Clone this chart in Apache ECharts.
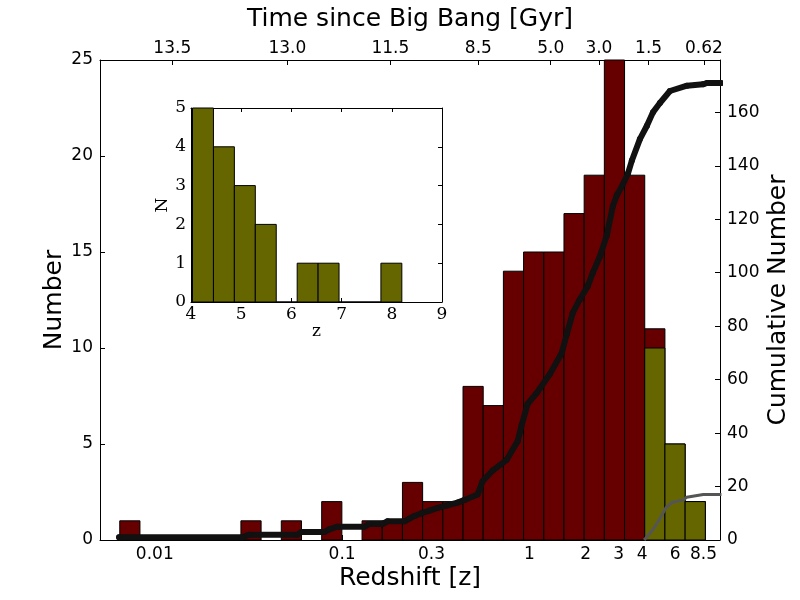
<!DOCTYPE html>
<html>
<head>
<meta charset="utf-8">
<script src="https://cdn.jsdelivr.net/npm/echarts@6/dist/echarts.min.js"></script>
<style>
  html, body { margin: 0; padding: 0; background: #fff; }
  #chart { width: 800px; height: 600px; }
</style>
</head>
<body>
<div id="chart"></div>
<script>
// Histogram of redshifts: 29 equal bins in log10(z)
const binStartLogZ = -2.187;
const binWidthLogZ = 0.1078;
const allCounts = [1, 0, 0, 0, 0, 0, 1, 0, 1, 0, 2, 0, 1, 1, 3, 2, 2, 8, 7, 14, 15, 15, 17, 19, 25, 19, 11, 5, 2];
const highZCounts = [0, 0, 0, 0, 0, 0, 0, 0, 0, 0, 0, 0, 0, 0, 0, 0, 0, 0, 0, 0, 0, 0, 0, 0, 0, 0, 10, 5, 2];

// Cumulative number
const cumZ = [0.00645, 0.0293, 0.0319, 0.0577, 0.0606, 0.0804, 0.0855, 0.0944, 0.1316, 0.140, 0.164, 0.175,
  0.2154, 0.229, 0.2435, 0.2655, 0.293, 0.323, 0.3656, 0.4136, 0.4508, 0.529, 0.5626, 0.6364, 0.7561, 0.866,
  0.9095, 0.979, 1.094, 1.284, 1.488, 1.583, 1.704, 1.858, 2.05, 2.18, 2.376, 2.59, 2.79, 2.93, 3.155, 3.355,
  3.525, 3.89, 4.24, 4.565, 4.975, 5.627, 6.94, 8.45, 8.875, 10.6];
const cumN = [1, 1, 2, 2, 3, 3, 4, 5, 5, 6, 6, 7,
  7, 8, 9, 10, 11, 12, 13, 14, 15, 17, 22, 26, 30, 37,
  43, 51, 55, 62, 70, 77, 85, 90, 95, 100, 106, 114, 125, 129, 133, 137,
  142, 150, 155, 160, 163.5, 168, 170, 170.5, 171, 171];

// Cumulative number for z > 4 (grey curve)
const highZCumZ = [4.10, 4.58, 4.975, 5.35, 5.75, 6.63, 6.91, 8.48, 10.6];
const highZCumN = [0, 4, 8, 12, 14, 15, 16, 17, 17];

// Axis ticks
const bottomTickZ = [0.01, 0.1, 0.3, 1, 2, 3, 4, 6, 8.5];
const bottomTickLabels = ['0.01', '0.1', '0.3', '1', '2', '3', '4', '6', '8.5'];
const topTickZ = [0.0124, 0.051, 0.181, 0.534, 1.30, 2.35, 4.33, 8.55];
const topTickLabels = ['13.5', '13.0', '11.5', '8.5', '5.0', '3.0', '1.5', '0.62'];

// Inset: z > 4 histogram
const insetBinStart = 4.03;
const insetBinWidth = 0.417;
const insetCounts = [5, 4, 3, 2, 0, 1, 1, 0, 0, 1];

const RED = '#660000';
const OLIVE = '#666600';
const SANS = 'DejaVu Sans';
const SERIF = 'DejaVu Serif';

const bottomTickLog = bottomTickZ.map(Math.log10);
const topTickLog = topTickZ.map(Math.log10);

function lookupLabel(ticks, labels) {
    return value => {
        const i = ticks.findIndex(v => Math.abs(v - value) < 1e-6);
        return i >= 0 ? labels[i] : '';
    };
}

function histData(start, width, counts, skipZero) {
    const out = [];
    counts.forEach((c, i) => {
        if (skipZero && c === 0) return;
        out.push([start + i * width, start + (i + 1) * width, c]);
    });
    return out;
}

function barRenderer(color) {
    return (params, api) => {
        const p0 = api.coord([api.value(0), 0]);
        const p1 = api.coord([api.value(1), api.value(2)]);
        return {
            type: 'rect',
            shape: { x: p0[0], y: p1[1], width: p1[0] - p0[0], height: p0[1] - p1[1] },
            style: { fill: color, stroke: '#000', lineWidth: 1 }
        };
    };
}

const frameLine = () => ({ show: true, onZero: false, lineStyle: { color: '#000', width: 1 } });
const tickIn = (len) => ({ show: true, inside: true, length: len, lineStyle: { color: '#000', width: 1 } });

const chart = echarts.init(document.getElementById('chart'));

chart.setOption({
    animation: false,
    backgroundColor: '#fff',
    grid: [
        { left: 100, top: 60, width: 620, height: 480 },
        { left: 191, top: 108, width: 251, height: 194, show: true, backgroundColor: '#fff', borderWidth: 0, z: 10 }
    ],
    xAxis: [
        {
            gridIndex: 0, type: 'value', position: 'bottom',
            min: -2.2925, max: 1.0176,
            axisLine: frameLine(),
            axisTick: Object.assign(tickIn(5), { customValues: bottomTickLog }),
            axisLabel: { customValues: bottomTickLog, formatter: lookupLabel(bottomTickLog, bottomTickLabels),
                fontFamily: SANS, fontSize: 17, color: '#000', margin: 6 },
            splitLine: { show: false },
            name: 'Redshift [z]', nameLocation: 'middle', nameGap: 26, nameMoveOverlap: false,
            nameTextStyle: { fontFamily: SANS, fontSize: 25, color: '#000' }
        },
        {
            gridIndex: 0, type: 'value', position: 'top',
            min: -2.2925, max: 1.0176,
            axisLine: frameLine(),
            axisTick: Object.assign(tickIn(5), { customValues: topTickLog }),
            axisLabel: { customValues: topTickLog, formatter: lookupLabel(topTickLog, topTickLabels),
                fontFamily: SANS, fontSize: 17, color: '#000', margin: 3 },
            splitLine: { show: false },
            name: 'Time since Big Bang [Gyr]', nameLocation: 'middle', nameGap: 28, nameMoveOverlap: false,
            nameTextStyle: { fontFamily: SANS, fontSize: 25, color: '#000' }
        },
        {
            gridIndex: 1, type: 'value', position: 'bottom',
            min: 4, max: 9, interval: 1,
            axisLine: frameLine(), axisTick: tickIn(4),
            axisLabel: { fontFamily: SERIF, fontSize: 17, color: '#000', margin: 4 },
            splitLine: { show: false },
            name: 'z', nameLocation: 'middle', nameGap: 21, nameMoveOverlap: false,
            nameTextStyle: { fontFamily: SERIF, fontSize: 17, color: '#000' },
            z: 10
        },
        {
            gridIndex: 1, type: 'value', position: 'top',
            min: 4, max: 9, interval: 1,
            axisLine: frameLine(), axisTick: tickIn(4),
            axisLabel: { show: false }, splitLine: { show: false }, z: 10
        }
    ],
    yAxis: [
        {
            gridIndex: 0, type: 'value', position: 'left',
            min: 0, max: 25, interval: 5,
            axisLine: frameLine(), axisTick: tickIn(5),
            axisLabel: { fontFamily: SANS, fontSize: 17, color: '#000', margin: 7 },
            splitLine: { show: false },
            name: 'Number', nameLocation: 'middle', nameGap: 33, nameRotate: 90, nameMoveOverlap: false,
            nameTextStyle: { fontFamily: SANS, fontSize: 25, color: '#000' }
        },
        {
            gridIndex: 0, type: 'value', position: 'right',
            min: 0, max: 179.6, interval: 20,
            axisLine: frameLine(), axisTick: tickIn(5),
            axisLabel: { fontFamily: SANS, fontSize: 17, color: '#000', margin: 7, showMaxLabel: false },
            splitLine: { show: false },
            name: 'Cumulative Number', nameLocation: 'middle', nameGap: 46, nameRotate: 90, nameMoveOverlap: false,
            nameTextStyle: { fontFamily: SANS, fontSize: 25, color: '#000' }
        },
        {
            gridIndex: 1, type: 'value', position: 'left',
            min: 0, max: 5, interval: 1,
            axisLine: frameLine(), axisTick: tickIn(4),
            axisLabel: { fontFamily: SERIF, fontSize: 17, color: '#000', margin: 5 },
            splitLine: { show: false },
            name: 'N', nameLocation: 'middle', nameGap: 20, nameRotate: 90, nameMoveOverlap: false,
            nameTextStyle: { fontFamily: SERIF, fontSize: 17, color: '#000' },
            z: 10
        },
        {
            gridIndex: 1, type: 'value', position: 'right',
            min: 0, max: 5, interval: 1,
            axisLine: frameLine(), axisTick: tickIn(4),
            axisLabel: { show: false }, splitLine: { show: false }, z: 10
        }
    ],
    series: [
        {
            type: 'custom', xAxisIndex: 0, yAxisIndex: 0, z: 2,
            renderItem: barRenderer(RED), encode: { x: [0, 1], y: 2 },
            data: histData(binStartLogZ, binWidthLogZ, allCounts, true)
        },
        {
            type: 'custom', xAxisIndex: 0, yAxisIndex: 0, z: 3,
            renderItem: barRenderer(OLIVE), encode: { x: [0, 1], y: 2 },
            data: histData(binStartLogZ, binWidthLogZ, highZCounts, true)
        },
        {
            type: 'line', xAxisIndex: 0, yAxisIndex: 1, z: 4,
            symbol: 'circle', symbolSize: 6, showSymbol: true, clip: true,
            itemStyle: { color: '#111' },
            lineStyle: { color: '#111', width: 6, join: 'round', cap: 'round' },
            data: cumZ.map((z, i) => [Math.log10(z), cumN[i]])
        },
        {
            type: 'line', xAxisIndex: 0, yAxisIndex: 1, z: 5,
            showSymbol: false, clip: true,
            lineStyle: { color: '#555', width: 3, join: 'round' },
            data: highZCumZ.map((z, i) => [Math.log10(z), highZCumN[i]])
        },
        {
            type: 'custom', xAxisIndex: 2, yAxisIndex: 2, z: 12,
            renderItem: barRenderer(OLIVE), encode: { x: [0, 1], y: 2 },
            data: histData(insetBinStart, insetBinWidth, insetCounts, false)
        }
    ]
});
</script>
</body>
</html>
